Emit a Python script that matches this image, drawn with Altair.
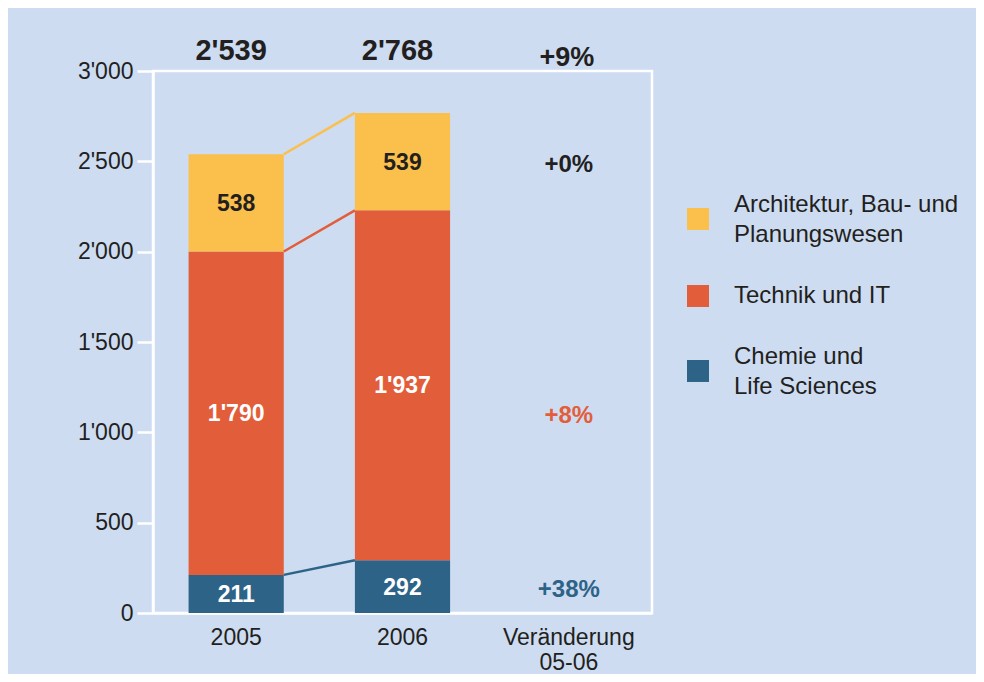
import altair as alt
import pandas as pd

# ---- data ----
years = ["2005", "2006"]
change_column = "Veränderung 05-06"
categories = [
    "Architektur, Bau- und\nPlanungswesen",
    "Technik und IT",
    "Chemie und\nLife Sciences",
]
stack_order = ["Chemie und\nLife Sciences", "Technik und IT", "Architektur, Bau- und\nPlanungswesen"]
values_chemie = [211, 292]
values_technik = [1790, 1937]
values_architektur = [538, 539]
total_labels = ["2'539", "2'768"]
total_change_label = "+9%"
change_labels = ["+0%", "+8%", "+38%"]          # same order as categories
change_anchor_year = ["2006", "2005", "2006"]    # which bar segment the label sits beside
y_max = 3000
y_ticks = [0, 500, 1000, 1500, 2000, 2500, 3000]

# ---- styles ----
colors = ["#FBBF4C", "#E25E3A", "#2D6387"]
inner_text = {"Architektur, Bau- und\nPlanungswesen": "#231F20",
              "Technik und IT": "#FFFFFF",
              "Chemie und\nLife Sciences": "#FFFFFF"}
change_text = {"Architektur, Bau- und\nPlanungswesen": "#231F20",
               "Technik und IT": "#E25E3A",
               "Chemie und\nLife Sciences": "#2D6387"}
BG = "#CDDCF1"
DARK = "#231F20"
FONT = "Liberation Sans"
# legend swatches: square centred on the label block (two-line labels get a lowered square)
SQ_CENTER = "M-1,-1L1,-1L1,1L-1,1Z"
SQ_LOWER = "M-1,0.27L1,0.27L1,2.27L-1,2.27Z"
swatch_paths = [SQ_LOWER if "\n" in c else SQ_CENTER for c in categories]


def fmt(v):
    return f"{v:,}".replace(",", "'")


series = {
    "Chemie und\nLife Sciences": values_chemie,
    "Technik und IT": values_technik,
    "Architektur, Bau- und\nPlanungswesen": values_architektur,
}

rows = []
for i, yr in enumerate(years):
    base = 0
    for cat in stack_order:
        v = series[cat][i]
        rows.append({"year": yr, "cat": cat, "value": v, "base": base, "top": base + v,
                     "mid": base + v / 2, "label": fmt(v), "tcolor": inner_text[cat]})
        base += v
seg = pd.DataFrame(rows)

rule_rows = []
for cat in stack_order:
    a = seg[(seg.year == years[0]) & (seg.cat == cat)].iloc[0]
    b = seg[(seg.year == years[1]) & (seg.cat == cat)].iloc[0]
    rule_rows.append({"from": years[0], "to": years[1], "y": a["top"], "y2": b["top"], "cat": cat})
rules = pd.DataFrame(rule_rows)

chg_rows = []
for cat, lab, anc in zip(categories, change_labels, change_anchor_year):
    m = seg[(seg.year == anc) & (seg.cat == cat)].iloc[0]["mid"]
    chg_rows.append({"year": change_column, "mid": m, "label": lab, "tcolor": change_text[cat]})
chg = pd.DataFrame(chg_rows)

tot = pd.DataFrame({"year": years, "ytop": [y_max] * len(years), "label": total_labels})
tot_chg = pd.DataFrame({"year": [change_column], "ytop": [y_max], "label": [total_change_label]})

x_scale = alt.Scale(domain=years + [change_column], paddingInner=0.4277, paddingOuter=0.2139)
y_scale = alt.Scale(domain=[0, y_max], nice=False)

x_axis = alt.Axis(title=None, labelAngle=0, ticks=False, domainColor="white", domainWidth=2.5,
                  labelFontSize=23, labelFont=FONT, labelColor=DARK, labelPadding=13,
                  labelLineHeight=25, labelExpr="split(datum.label, ' ')")
y_axis = alt.Axis(title=None, values=y_ticks, grid=False, domainColor="white", domainWidth=2.5,
                  tickColor="white", tickWidth=2.5, tickSize=16, labelFontSize=23, labelFont=FONT,
                  labelColor=DARK, labelPadding=4,
                  labelExpr="replace(format(datum.value, ','), ',', \"'\")")


def make_legend():
    return alt.Legend(title=None, orient="none", legendX=533, legendY=122,
                      symbolSize=484, symbolStrokeWidth=0,
                      symbolOpacity=1, labelFontSize=24, labelFont=FONT,
                      labelColor=DARK, labelOffset=24,
                      labelLimit=0, rowPadding=37, padding=0,
                      labelExpr="split(datum.label, '\\n')")


color_scale = alt.Scale(domain=categories, range=colors)

# hidden swatch source (drawn under the bars) so the legend gets centred squares
swatch = alt.Chart(seg).mark_point(filled=True, size=12, opacity=1).encode(
    x=alt.X("year:N", scale=x_scale, axis=x_axis, sort=None),
    y=alt.Y("mid:Q", scale=y_scale, axis=y_axis),
    color=alt.Color("cat:N", scale=color_scale, legend=make_legend()),
    shape=alt.Shape("cat:N", scale=alt.Scale(domain=categories, range=swatch_paths), legend=make_legend()),
)

bars = alt.Chart(seg).mark_bar().encode(
    x=alt.X("year:N"),
    y=alt.Y("base:Q"),
    y2="top:Q",
    color=alt.Color("cat:N"),
)

connect = alt.Chart(rules).mark_rule(strokeWidth=2.5).encode(
    x=alt.X("from:N", bandPosition=1),
    x2=alt.X2("to", bandPosition=0),
    y="y:Q",
    y2="y2:Q",
    color=alt.Color("cat:N"),
)

seg_text = alt.Chart(seg).mark_text(font=FONT, fontSize=23, fontWeight="bold", baseline="middle",
                                    dy=1).encode(
    x="year:N", y="mid:Q", text="label:N", color=alt.Color("tcolor:N", scale=None),
)

chg_text = alt.Chart(chg).mark_text(font=FONT, fontSize=24, fontWeight="bold", baseline="middle",
                                    dy=3).encode(
    x="year:N", y="mid:Q", text="label:N", color=alt.Color("tcolor:N", scale=None),
)

tot_text = alt.Chart(tot).mark_text(font=FONT, fontSize=29, fontWeight="bold", baseline="middle",
                                    dy=-20, dx=-5, color=DARK).encode(
    x="year:N", y="ytop:Q", text="label:N",
)
tot_chg_text = alt.Chart(tot_chg).mark_text(font=FONT, fontSize=27, fontWeight="bold", baseline="middle",
                                            dy=-13, dx=-2, color=DARK).encode(
    x="year:N", y="ytop:Q", text="label:N",
)

chart = alt.layer(swatch, bars, connect, seg_text, chg_text, tot_text, tot_chg_text).properties(
    width=499, height=542,
    autosize=alt.AutoSizeParams(type="none"),
    padding={"left": 145, "top": 63, "right": 324, "bottom": 61},
).configure(background=BG, style={"guide-label": {"lineHeight": 30}}).configure_view(
    stroke="white", strokeWidth=2.5)

chart.save("out.html", embed_options={"renderer": "svg", "actions": False})
